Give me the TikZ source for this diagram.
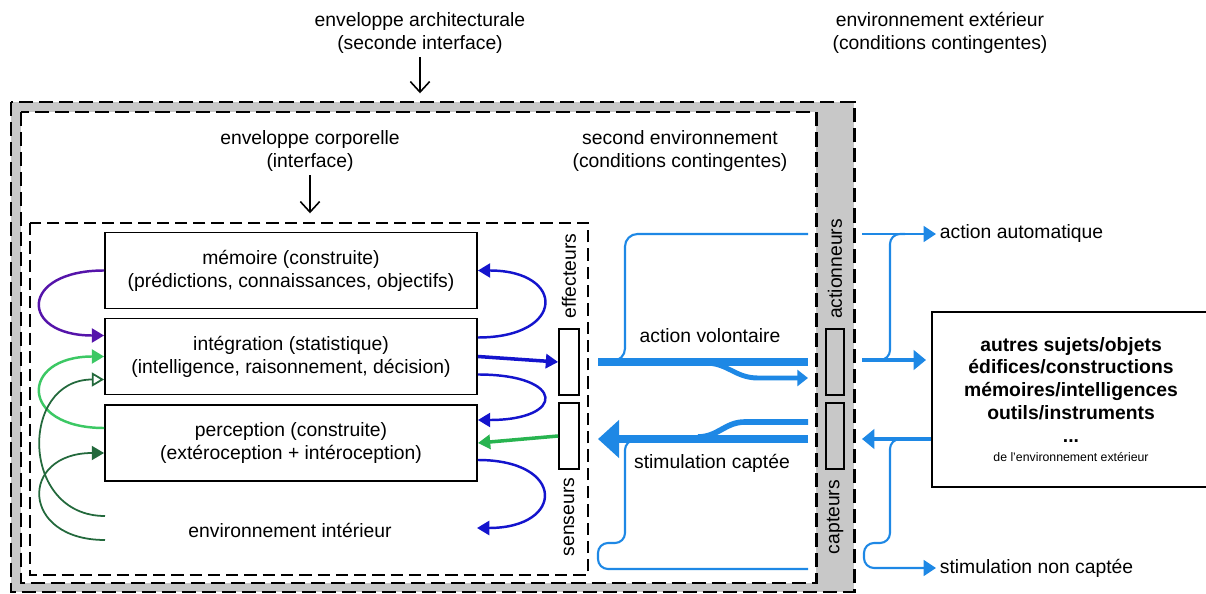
\documentclass[tikz,border=0pt]{standalone}
\usepackage{fontspec}
\setmainfont{Liberation Sans}
\usetikzlibrary{arrows.meta,calc,positioning}
\definecolor{bleu}{RGB}{30,136,229}
\definecolor{bleufonce}{RGB}{20,20,205}
\definecolor{violetfonce}{RGB}{85,20,170}
\definecolor{vertclair}{RGB}{60,200,100}
\definecolor{vertmoyen}{RGB}{40,180,80}
\definecolor{vertfonce}{RGB}{35,105,60}
\definecolor{gris}{RGB}{200,200,200}

\begin{document}
\begin{tikzpicture}[x=0.02cm,y=-0.02cm,
	every node/.style={font=\fontsize{11}{13}\selectfont, align=center, inner sep=2pt},
	boite/.style={draw, line width=1.1pt, minimum width=7.44cm, minimum height=1.52cm, inner sep=0pt},
	organe/.style={draw, line width=1pt, minimum width=0.4cm, minimum height=1.32cm, inner sep=0pt},
	tirets/.style={line width=1.7pt, dash pattern=on 8pt off 3.4pt},
	tiretsfins/.style={line width=1.1pt, dash pattern=on 7pt off 3.4pt},
	ouvert/.style={line width=0.9pt, -{Straight Barb[length=6pt,width=11pt]}},
	boucle/.style={line width=1.4pt, -{Triangle[length=7pt,width=8pt]}},
	flux/.style={bleu, line width=1.2pt},
	fluxlarge/.style={bleu, line width=4.5pt},
	fluxmoyen/.style={bleu, line width=2.8pt}]
	\useasboundingbox (0,0) rectangle (1206,594);
	\clip (0,0) rectangle (1206,594);
	\fill[gris] (11,102) rectangle (854,592);
	\fill[white] (21,112) rectangle (816,583);
	\draw[tirets] (11,102) rectangle (854,592);
	\draw[tirets] (21,112) rectangle (816,583);
	\draw[tiretsfins] (30,223) rectangle (588,575);

	\node (archi) at (420,33) {enveloppe architecturale\\(seconde interface)};
	\node (ext) at (940,33) {environnement extérieur\\(conditions contingentes)};
	\node (corp) at (310,151) {enveloppe corporelle\\(interface)};
	\node (second) at (680,151) {second environnement\\(conditions contingentes)};
	\draw[ouvert] (archi.south) -- ++(0,36);
	\draw[ouvert] (corp.south) -- ++(0,38);

	\node[boite] (mem) at (291,270.5) {mémoire (construite)\\(prédictions, connaissances, objectifs)};
	\node[boite] (int) at (291,356.5) {intégration (statistique)\\(intelligence, raisonnement, décision)};
	\node[boite] (per) at (291,443) {perception (construite)\\(extéroception + intéroception)};
	\node (envint) at (290,530) {environnement intérieur};
	\node[organe] (eff) at (569,362) {};
	\node[organe] (sen) at (569,436) {};
	\node[organe, fill=gris, minimum width=0.36cm] (act) at (835,362) {};
	\node[organe, fill=gris, minimum width=0.36cm] (cap) at (835,436) {};
	\node[rotate=90] (effl) at (569,276) {effecteurs};
	\node[rotate=90] (senl) at (569,517) {senseurs};
	\node[rotate=90] (actl) at (835,269) {actionneurs};
	\node[rotate=90] (capl) at (835,517) {capteurs};
	\node[draw, line width=1.1pt, minimum width=5.56cm, minimum height=3.5cm, inner sep=0pt,
		font=\fontsize{11}{13}\selectfont\bfseries] (autres) at (1071,399.5)
		{autres sujets/objets\\édifices/constructions\\mémoires/intelligences\\outils/instruments\\...\\[-2pt]
		{\mdseries\fontsize{7}{8}\selectfont de l'environnement extérieur}};

	\coordinate (envg1) at (105,516);
	\coordinate (envg2) at (105,540);
	\coordinate (envd) at (477,528);

	\draw[boucle, violetfonce] (mem.west) .. controls +(-85,0) and +(-85,0) .. ($(int.west)+(0,-21)$);
	\draw[boucle, vertclair] ($(per.west)+(0,-15)$) .. controls +(-85,0) and +(-85,0) .. (int.west);
	\draw[vertfonce, line width=1pt, -{Triangle[open,length=7pt,width=8pt]}] (envg1) .. controls +(-85,0) and +(-85,0) .. ($(int.west)+(0,23)$);
	\draw[vertfonce, line width=1pt, -{Triangle[length=7pt,width=8pt]}] (envg2) .. controls +(-85,0) and +(-85,0) .. ($(per.west)+(0,10)$);

	\draw[boucle, bleufonce] ($(int.east)+(0,-19)$) .. controls +(88,0) and +(88,0) .. (mem.east);
	\draw[boucle, bleufonce, line width=2pt] (int.east) -- (eff.west);
	\draw[boucle, bleufonce] ($(int.east)+(0,18)$) .. controls +(88,0) and +(88,0) .. ($(per.east)+(0,-23)$);
	\draw[boucle, bleufonce] ($(per.east)+(0,17)$) .. controls +(88,0) and +(88,0) .. (envd);
	\draw[boucle, vertmoyen, line width=2pt] (sen.west) -- (per.east);

	\node (volont) at (710,336) {action volontaire};
	\node (captee) at (712,463) {stimulation captée};
	\node[anchor=west] (auto) at (936,234) {action automatique};
	\node[anchor=west] (noncapt) at (936,568) {stimulation non captée};

	\draw[fluxlarge] (598,362) -- (808,362);
	\draw[fluxmoyen, -{Triangle[length=6pt,width=9pt]}] (705,363) .. controls (728,363) and (735,378) .. (758,378) -- (808,378);
	\draw[flux, rounded corners=0.25cm] (600,361) -| (625,234) -- (808,234);
	\draw[flux, -{Triangle[length=7pt,width=9pt]}] (862,234) -- (auto.west);
	\draw[flux, rounded corners=0.2cm] (864,360) -| (890,234) -- (905,234);
	\draw[fluxmoyen, -{Triangle[length=7pt,width=11pt]}] (862,360) -- (926,360);

	\draw[fluxmoyen, -{Triangle[length=7pt,width=11pt]}] (autres.west |- 0,439) -- (862,439);
	\draw[flux, rounded corners=0.2cm, -{Triangle[length=7pt,width=9pt]}] (905,439) -| (890,543) -| (864,568) -- (noncapt.west);
	\draw[fluxlarge, -{Triangle[length=12pt,width=21pt]}] (808,439) -- (598,439);
	\draw[bleu, line width=3.2pt] (808,422) -- (745,422) .. controls (725,422) and (718,437) .. (698,437);
	\draw[flux, rounded corners=0.2cm] (650,440) -| (625,543) -| (598,569) -- (808,569);
\end{tikzpicture}
\end{document}
